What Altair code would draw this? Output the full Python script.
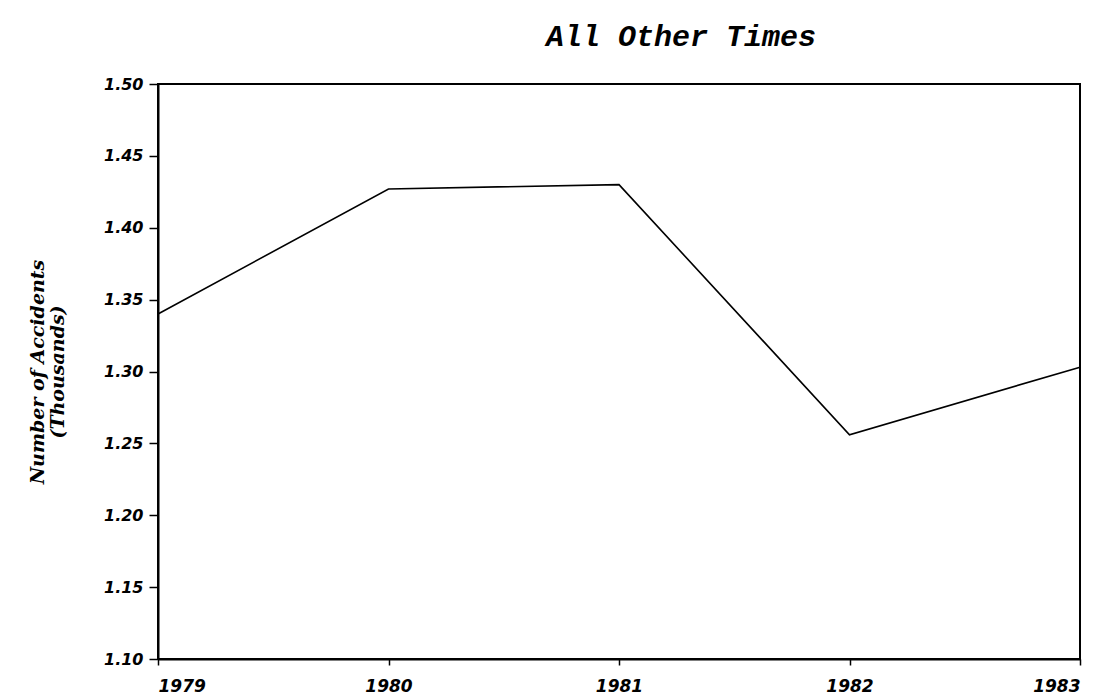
import altair as alt
import pandas as pd

years = [1979, 1980, 1981, 1982, 1983]
accidents = [1.340, 1.427, 1.430, 1.256, 1.303]
y_ticks = [1.10, 1.15, 1.20, 1.25, 1.30, 1.35, 1.40, 1.45, 1.50]

df = pd.DataFrame({"year": years, "accidents": accidents})

tick_font = "DejaVu Sans"
title_font = "DejaVu Serif"

chart = alt.Chart(df).mark_line(color="black", strokeWidth=1.6).encode(
    x=alt.X("year:Q",
            scale=alt.Scale(domain=[1979, 1983], nice=False, zero=False),
            axis=alt.Axis(values=years, format="d", title=None, grid=False,
                          domainColor="black", domainWidth=2, tickColor="black",
                          tickWidth=1.5, tickSize=6, labelPadding=13,
                          labelFont=tick_font, labelFontStyle="italic",
                          labelFontWeight="bold", labelFontSize=17,
                          labelColor="black")),
    y=alt.Y("accidents:Q",
            scale=alt.Scale(domain=[1.10, 1.50], nice=False, zero=False),
            axis=alt.Axis(values=y_ticks, format=".2f",
                          title=["Number of Accidents", "(Thousands)"],
                          titleFont=title_font, titleFontStyle="italic",
                          titleFontWeight="bold", titleFontSize=19,
                          titleColor="black", titlePadding=36,
                          titleLineHeight=20,
                          grid=False, domainColor="black", domainWidth=2,
                          tickColor="black", tickWidth=1.5, tickSize=9,
                          labelPadding=6, labelFont=tick_font,
                          labelFontStyle="italic", labelFontWeight="bold",
                          labelFontSize=16, labelColor="black")),
).properties(
    width=922,
    height=575,
    background="white",
    title=alt.TitleParams("All Other Times", font="Liberation Mono",
                          fontStyle="italic", fontWeight="bold", fontSize=30,
                          color="black", anchor="middle", dx=62, offset=24),
    autosize=alt.AutoSizeParams(type="none"),
    padding={"left": 150, "top": 76, "right": 16, "bottom": 40},
).configure_view(stroke="black", strokeWidth=2)

chart.save("out.html", embed_options={"renderer": "svg", "actions": False})
